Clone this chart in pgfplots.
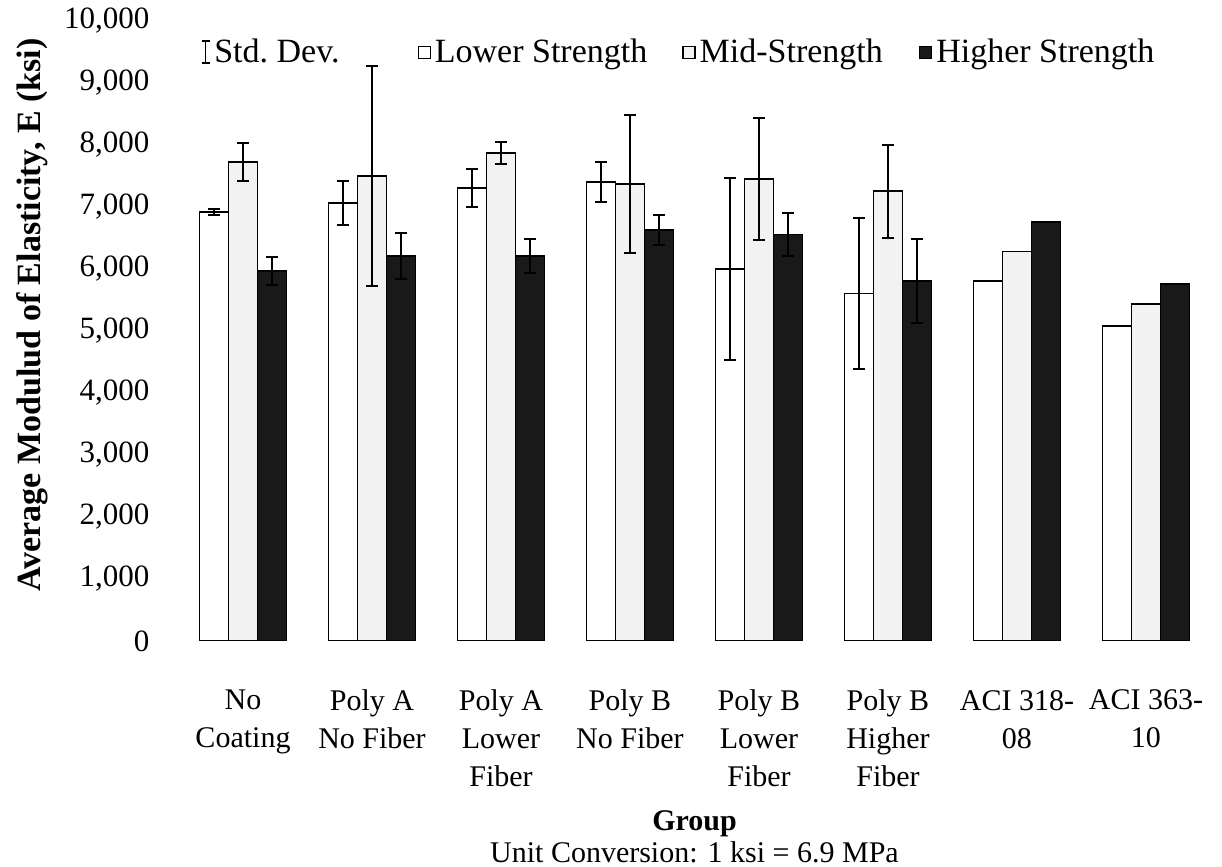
\documentclass[border=0pt]{standalone}
\usepackage{fontspec}
\setmainfont{Liberation Serif}
\usepackage{pgfplots}
\usepackage{pgfplotstable}
\pgfplotsset{compat=1.18}

\pgfplotstableread{
x L Le M Me H He
0 6920 50 7725 310 5968 230
1 7065 355 7500 1770 6210 370
2 7306 310 7871 180 6210 270
3 7403 320 7371 1110 6629 240
4 6000 1470 7452 990 6556 340
5 5605 1210 7258 750 5806 680
}\grpdata

\pgfplotstableread{
x L M H
6 5806 6282 6758
7 5081 5435 5758
}\acidata

\definecolor{midfill}{gray}{0.95}
\definecolor{highfill}{gray}{0.1}

\begin{document}
\begin{tikzpicture}[font=\fontsize{15}{19}\selectfont]
\begin{axis}[
  scale only axis, width=516pt, height=310pt,
  at={(0,0)}, anchor=south west,
  ymin=0, ymax=10000, xmin=-0.5, xmax=7.5,
  ybar=0pt, bar width=14.5pt,
  axis line style={draw=none}, major tick length=0pt,
  ytick={0,1000,...,10000},
  scaled y ticks=false,
  /pgf/number format/assume math mode=true,
  /pgf/number format/1000 sep={,},
  yticklabel style={xshift=-11pt, font=\fontsize{15.5}{19}\selectfont},
  xtick={0,...,7},
  xticklabels={{No\\Coating},{Poly A\\No Fiber},{Poly A\\Lower\\Fiber},{Poly B\\No Fiber},{Poly B\\Lower\\Fiber},{Poly B\\Higher\\Fiber},{ACI 318-\\08},{ACI 363-\\10}},
  xticklabel style={align=center, anchor=north, yshift=-21pt},
  ylabel={\textbf{Average Modulud of Elasticity, E (ksi)}},
  ylabel style={at={(axis description cs:-0.1415,0.526)}, anchor=center, font=\fontsize{17}{20}\selectfont},
  xlabel={\textbf{Group}\\[-3pt]Unit Conversion: 1 ksi = 6.9 MPa},
  xlabel style={align=center, at={(axis description cs:0.5,-0.262)}, anchor=north},
  legend style={at={(rel axis cs:0.0155,0.95)}, anchor=west, draw=none, fill=none,
    font=\fontsize{17}{20}\selectfont,
    legend columns=4,
    /tikz/column 2/.style={column sep=37pt},
    /tikz/column 4/.style={column sep=15.5pt},
    /tikz/column 6/.style={column sep=16pt},
    legend cell align=left},
  error bars/y dir=both, error bars/y explicit,
  error bars/error bar style={line width=1pt, black},
  error bars/error mark options={rotate=90, mark size=2.8pt, line width=1pt, black},
]
\addlegendimage{legend image code/.code={
  \draw[line width=0.7pt] (0.12cm,-0.19cm)--(0.12cm,0.19cm);
  \draw[line width=0.7pt] (0.05cm,0.19cm)--(0.19cm,0.19cm);
  \draw[line width=0.7pt] (0.05cm,-0.19cm)--(0.19cm,-0.19cm);}}
\addlegendentry{Std.\ Dev.}

\addplot[draw=black, line width=0.9pt, fill=white, bar shift=-14.5pt,
  legend image code/.code={\draw[black, line width=0.7pt, fill=white] (0cm,-0.11cm) rectangle (0.21cm,0.1cm);}]
  table[x=x, y=L, y error=Le] {\grpdata};
\addlegendentry{Lower Strength}
\addplot[draw=black, line width=0.9pt, fill=midfill, bar shift=0pt,
  legend image code/.code={\draw[black, line width=0.7pt, fill=midfill] (0cm,-0.11cm) rectangle (0.21cm,0.1cm);}]
  table[x=x, y=M, y error=Me] {\grpdata};
\addlegendentry{Mid-Strength}
\addplot[draw=black, line width=0.9pt, fill=highfill, bar shift=14.5pt,
  legend image code/.code={\draw[black, line width=0.7pt, fill=highfill] (0cm,-0.11cm) rectangle (0.21cm,0.1cm);}]
  table[x=x, y=H, y error=He] {\grpdata};
\addlegendentry{Higher Strength}

\addplot[forget plot, draw=black, line width=0.9pt, fill=white, bar shift=-14.5pt, error bars/y dir=none]
  table[x=x, y=L] {\acidata};
\addplot[forget plot, draw=black, line width=0.9pt, fill=midfill, bar shift=0pt, error bars/y dir=none]
  table[x=x, y=M] {\acidata};
\addplot[forget plot, draw=black, line width=0.9pt, fill=highfill, bar shift=14.5pt, error bars/y dir=none]
  table[x=x, y=H] {\acidata};
\end{axis}
\pgfresetboundingbox
\path[use as bounding box] (-89.25pt,-113pt) rectangle (521.75pt,320.5pt);
\end{tikzpicture}
\end{document}
